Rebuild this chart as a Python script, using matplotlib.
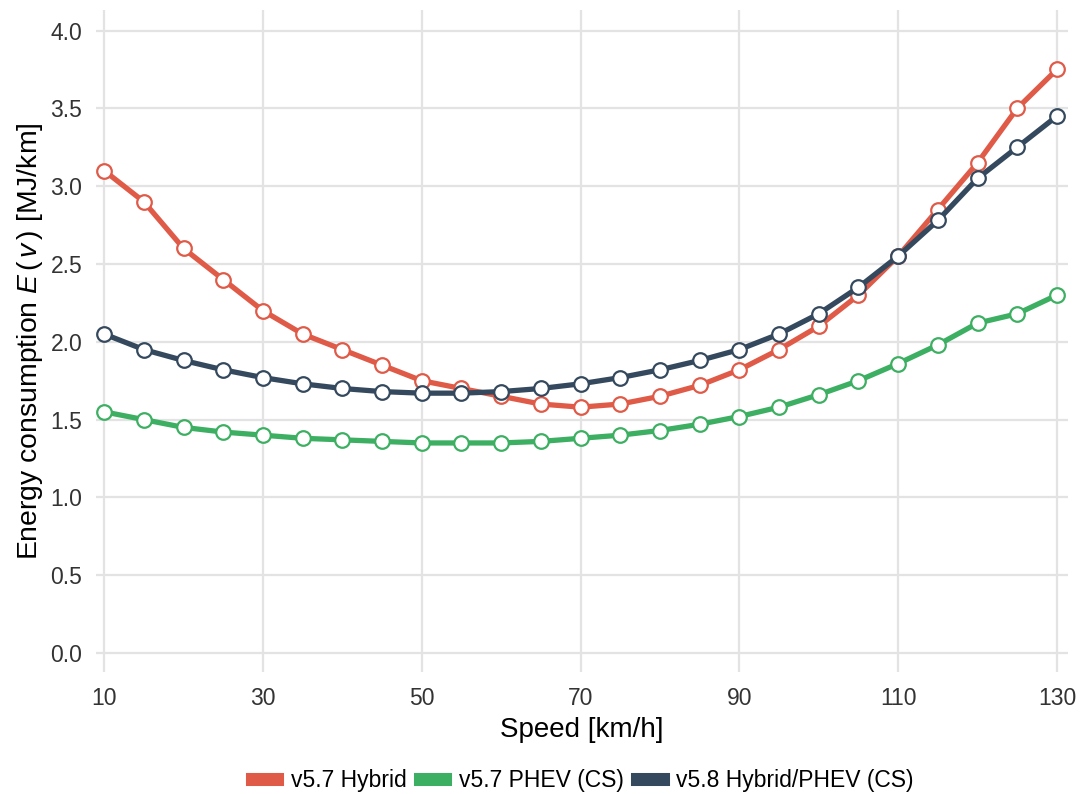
import matplotlib.pyplot as plt
from matplotlib.lines import Line2D

plt.rcParams['font.family'] = ['Liberation Sans', 'DejaVu Sans']
plt.rcParams['mathtext.fontset'] = 'custom'
plt.rcParams['mathtext.rm'] = 'Liberation Sans'
plt.rcParams['mathtext.it'] = 'Liberation Sans:italic'

speed = list(range(10, 135, 5))

hybrid_v57 = [3.10, 2.90, 2.60, 2.40, 2.20, 2.05, 1.95, 1.85, 1.75, 1.70, 1.65, 1.60, 1.58,
              1.60, 1.65, 1.72, 1.82, 1.95, 2.10, 2.30, 2.55, 2.85, 3.15, 3.50, 3.75]
phev_v57 = [1.55, 1.50, 1.45, 1.42, 1.40, 1.38, 1.37, 1.36, 1.35, 1.35, 1.35, 1.36, 1.38,
            1.40, 1.43, 1.47, 1.52, 1.58, 1.66, 1.75, 1.86, 1.98, 2.12, 2.18, 2.30]
hybrid_phev_v58 = [2.05, 1.95, 1.88, 1.82, 1.77, 1.73, 1.70, 1.68, 1.67, 1.67, 1.68, 1.70, 1.73,
                   1.77, 1.82, 1.88, 1.95, 2.05, 2.18, 2.35, 2.55, 2.78, 3.05, 3.25, 3.45]

labels = ['v5.7 Hybrid', 'v5.7 PHEV (CS)', 'v5.8 Hybrid/PHEV (CS)']
colors = ['#e05a48', '#3daf62', '#34495e']
series = [hybrid_v57, phev_v57, hybrid_phev_v58]

fig = plt.figure(figsize=(10.81, 7.94), dpi=100)
ax = fig.add_axes([0.089, 0.154, 0.899, 0.833])

for values, color in zip(series, colors):
    ax.plot(speed, values, color=color, linewidth=3.8, marker='o', markersize=10.5,
            markerfacecolor='white', markeredgecolor=color, markeredgewidth=1.6,
            solid_capstyle='round', zorder=3)

ax.set_xlim(9, 131.4)
ax.set_ylim(-0.12, 4.13)
ax.set_xticks(range(10, 131, 20))
ax.set_yticks([0, 0.5, 1.0, 1.5, 2.0, 2.5, 3.0, 3.5, 4.0])
ax.set_yticklabels([f'{v:.1f}' for v in ax.get_yticks()])
ax.tick_params(axis='y', length=0, labelsize=16.5, labelcolor='#333333', pad=10)
ax.tick_params(axis='x', length=0, labelsize=16.5, labelcolor='#333333', pad=11)

ax.grid(True, color='#e3e3e3', linewidth=1.6)
ax.set_axisbelow(True)
for spine in ax.spines.values():
    spine.set_visible(False)

ax.set_xlabel('Speed [km/h]', fontsize=20, labelpad=5)
ax.set_ylabel(r'Energy consumption $E\,(\,v\,)$ [MJ/km]', fontsize=20.4, labelpad=4)

handles = [Line2D([0], [0], color=c, linewidth=9.4) for c in colors]
fig.legend(handles, labels, loc='lower center', bbox_to_anchor=(0.539, -0.024), ncol=3,
           frameon=False, fontsize=16.5, handlelength=1.13, handletextpad=0.6, columnspacing=0.55)

fig.savefig('out.png', dpi=100)
